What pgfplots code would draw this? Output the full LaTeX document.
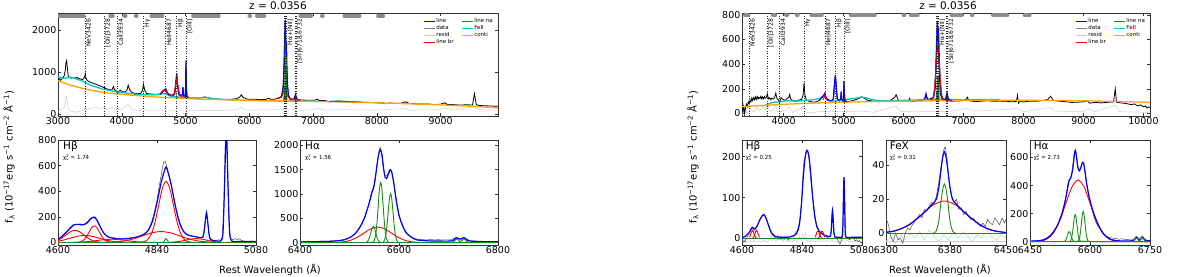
\documentclass[border=0pt]{standalone}
\usepackage{pgfplots}
\pgfplotsset{compat=1.18}
\usepackage{fontspec}
\setmainfont{DejaVu Sans}
\definecolor{cline}{rgb}{0,0,1}
\definecolor{cbr}{rgb}{1,0,0}
\definecolor{cna}{rgb}{0.1,0.55,0.1}
\definecolor{cfe}{rgb}{0,0.78,0.78}
\definecolor{cco}{rgb}{1,0.65,0}
\definecolor{cres}{gray}{0.8}
\definecolor{cdat}{gray}{0.5}
\definecolor{cbar}{gray}{0.55}
\pgfplotsset{
 base/.style={scale only axis, anchor=south west,
   axis line style={black!80, line width=0.9bp},
   tick style={black!80, line width=0.5bp}, tick align=inside, major tick length=3bp,
   ticklabel style={font=\fontsize{9.5}{10}\selectfont},
   xticklabel style={inner sep=1.5bp}, yticklabel style={inner sep=1.5bp},
   /pgf/number format/assume math mode=true, /pgf/number format/1000 sep={},
   scaled x ticks=false, scaled y ticks=false},
 topleg/.style={legend columns=2, legend cell align=left,
   legend style={draw=none, fill=none, at={(rel axis cs:0.997,0.975)}, anchor=north east,
     font=\fontsize{5.5}{6}\selectfont, nodes={inner sep=0.7bp},
     /tikz/every even column/.append style={column sep=7bp}},
   legend image code/.code={\draw[##1] (0bp,0bp) -- (11bp,0bp);}},
 spec/.style={black, line width=0.8bp},
 dat/.style={black!70, line width=0.5bp},
 res/.style={cres, line width=0.5bp},
 mline/.style={cline, line width=1.2bp},
 mbr/.style={cbr, line width=0.9bp},
 mna/.style={cna, line width=0.9bp},
 vl/.style={black!85, dotted, line width=0.5bp, unbounded coords=jump},
 bars/.style={cbar, line width=4bp, line cap=round, unbounded coords=jump},
}
\tikzset{lbl/.style={rotate=90, anchor=north east, font=\fontsize{6}{6}\selectfont, inner sep=0.8bp},
 ptitle/.style={anchor=north west, font=\fontsize{10.5}{11}\selectfont, inner sep=0bp},
 pchi/.style={anchor=north west, font=\fontsize{5.5}{6}\selectfont, inner sep=0bp}}
\newcommand\chinu{χ\rlap{\textsuperscript{2}}\textsubscript{ν}}
\begin{document}
\begin{tikzpicture}
\useasboundingbox (0bp,0bp) rectangle (1200bp,277bp);
% ================= LEFT FIGURE =================
\begin{axis}[base, topleg, at={(58bp,161bp)}, width=440bp, height=103bp,
  xmin=3000, xmax=9900, ymin=-50, ymax=2400, xtick={3000,4000,...,9000}, ytick={0,1000,2000}]
\addlegendimage{cline, line width=1.2bp}\addlegendentry{line}
\addlegendimage{cna, line width=1.2bp}\addlegendentry{line na}
\addlegendimage{cdat, line width=1.2bp}\addlegendentry{data}
\addlegendimage{cfe, line width=1.2bp}\addlegendentry{FeII}
\addlegendimage{cres, line width=1.2bp}\addlegendentry{resid}
\addlegendimage{cco, line width=1.2bp}\addlegendentry{conti}
\addlegendimage{cbr, line width=1.2bp}\addlegendentry{line br}
\addplot[res] coordinates {(3000,60)(3050,110)(3100,150)(3130,430)(3160,120)(3200,60)(3300,40)(3400,80)(3426,160)(3450,90)(3500,130)(3600,150)(3700,130)(3728,190)(3760,100)(3869,160)(3900,100)(4000,110)(4101,230)(4150,110)(4200,90)(4300,80)(4340,130)(4400,80)(4500,70)(4700,70)(5000,70)(5300,80)(5500,80)(5800,100)(5876,160)(5950,90)(6200,95)(6500,100)(6800,90)(7000,100)(7065,130)(7200,90)(7500,100)(8000,90)(8450,130)(8500,90)(9000,100)(9070,140)(9200,90)(9530,170)(9600,100)(9900,90)};
\addplot[spec] coordinates {(3000,810)(3020,840)(3040,800)(3060,830)(3080,860)(3100,920)(3115,1050)(3125,1230)(3135,1270)(3145,1120)(3160,900)(3180,870)(3200,850)(3230,865)(3260,840)(3290,870)(3320,845)(3350,830)(3380,815)(3405,840)(3420,900)(3428,950)(3436,860)(3460,790)(3490,770)(3520,745)(3560,725)(3600,700)(3640,680)(3680,655)(3710,630)(3728,640)(3745,605)(3780,590)(3810,575)(3845,565)(3869,650)(3885,580)(3915,545)(3934,490)(3950,540)(3975,560)(4010,530)(4050,520)(4080,560)(4101,680)(4125,570)(4160,505)(4200,490)(4250,480)(4300,490)(4325,560)(4340,710)(4360,560)(4390,485)(4440,475)(4500,468)(4560,465)(4620,480)(4650,540)(4690,580)(4720,480)(4760,450)(4800,430)(4830,470)(4850,760)(4861,930)(4875,700)(4895,450)(4930,420)(4950,450)(4959,610)(4968,430)(4995,415)(5001,700)(5007,1200)(5013,700)(5025,415)(5060,390)(5100,385)(5150,378)(5200,372)(5250,382)(5300,405)(5350,388)(5400,368)(5500,352)(5600,347)(5700,346)(5800,362)(5850,400)(5876,455)(5900,400)(5950,356)(6000,347)(6100,346)(6200,340)(6260,345)(6300,372)(6340,346)(6400,350)(6450,372)(6500,410)(6530,620)(6550,1500)(6563,2200)(6575,1500)(6590,950)(6610,460)(6650,348)(6700,352)(6717,415)(6724,360)(6731,425)(6760,332)(6800,330)(6900,326)(7000,322)(7040,330)(7065,352)(7090,322)(7200,316)(7250,285)(7300,300)(7400,306)(7500,300)(7600,292)(7700,287)(7800,276)(7900,272)(8000,266)(8100,256)(8150,240)(8200,261)(8300,250)(8400,257)(8450,290)(8500,252)(8600,240)(8700,232)(8800,236)(8900,222)(9000,232)(9070,265)(9100,226)(9200,220)(9300,210)(9400,216)(9500,212)(9530,480)(9560,222)(9600,202)(9700,192)(9800,188)(9900,180)};
\addplot[cfe, line width=1.3bp] coordinates {(3000,880)(3050,860)(3100,845)(3150,862)(3200,872)(3250,852)(3300,822)(3350,800)(3400,770)(3450,730)(3500,690)(3550,660)(3600,640)(3700,590)(3800,560)(3900,530)(4000,510)(4100,490)(4200,470)(4300,460)(4400,455)(4500,452)(4600,462)(4650,482)(4700,470)(4750,432)(4800,412)(4900,400)(5000,390)(5100,385)(5200,376)(5300,392)(5400,370)(5500,352)(5600,340)(5800,330)(6000,320)(6200,315)(6400,310)(6600,305)(6800,301)(7000,298)(7200,296)(7400,292)(7600,288)};
\addplot[cco, line width=1.3bp] coordinates {(3000,790)(3200,680)(3400,600)(3600,540)(3800,495)(4000,465)(4200,440)(4400,415)(4600,395)(4800,380)(5000,365)(5500,340)(6000,320)(6500,310)(7000,300)(7500,285)(8000,262)(8500,240)(9000,215)(9500,180)(9900,140)};
\addplot[mline] coordinates {(4600,470)(4630,520)(4650,560)(4670,570)(4688,600)(4700,560)(4720,490)(4760,450)(4800,440)(4830,480)(4845,700)(4861,960)(4875,700)(4890,500)(4920,440)(4950,450)(4959,640)(4968,430)(4995,410)(5002,650)(5007,1280)(5012,650)(5020,400)(5050,385)};
\addplot[mline] coordinates {(6450,370)(6500,400)(6520,460)(6535,700)(6548,1200)(6558,2000)(6563,2240)(6568,1900)(6576,1500)(6583,1700)(6590,1100)(6600,650)(6615,420)(6640,350)(6700,345)(6717,420)(6724,360)(6731,430)(6745,335)(6800,330)};
\addplot[mbr] coordinates {(4600,470)(4620,510)(4641,540)(4660,540)(4688,580)(4710,490)(4740,440)(4780,430)(4820,480)(4840,640)(4862,830)(4885,640)(4910,440)(4940,410)(4980,400)(5050,385)};
\addplot[mbr] coordinates {(6450,370)(6490,380)(6515,430)(6530,500)(6545,600)(6557,640)(6570,600)(6585,500)(6600,430)(6625,375)(6660,350)(6800,330)};
\addplot[cna, line width=0.8bp, fill=cna] coordinates {(6538,325)(6544,420)(6548,650)(6552,420)(6556,400)(6560,900)(6563,1700)(6566,900)(6570,420)(6576,400)(6580,800)(6583,1350)(6586,800)(6591,330)};
\addplot[mna] coordinates {(4845,400)(4858,400)(4862,440)(4866,400)(4880,395)};
\addplot[mna] coordinates {(7250,300)(7650,288)};
\addplot[vl] coordinates {(3426,-50)(3426,2400)(3427,nan)(3728,-50)(3728,2400)(3729,nan)(3934,-50)(3934,2400)(3935,nan)(4340,-50)(4340,2400)(4341,nan)(4687,-50)(4687,2400)(4688,nan)(4861,-50)(4861,2400)(4862,nan)(5007,-50)(5007,2400)(5008,nan)(6548,-50)(6548,2400)(6549,nan)(6563,-50)(6563,2400)(6564,nan)(6583,-50)(6583,2400)(6584,nan)(6718,-50)(6718,2400)(6719,nan)(6732,-50)(6732,2400)};
\addplot[bars] coordinates {(3000,2330)(3400,2330)(3500,nan)(3820,2330)(3860,2330)(3900,nan)(4040,2330)(4060,2330)(4100,nan)(4222,2330)(4233,2330)(4300,nan)(4465,2330)(4635,2330)(4700,nan)(5120,2330)(5520,2330)(5600,nan)(6002,2330)(6013,2330)(6050,nan)(6120,2330)(6235,2330)(6300,nan)(6800,2330)(6970,2330)(7000,nan)(7140,2330)(7150,2330)(7200,nan)(7490,2330)(7730,2330)(7800,nan)(8020,2330)(8100,2330)};
\node[lbl] at (axis cs:3426,2280) {NeV3426};
\node[lbl] at (axis cs:3728,2280) {[OII]3728};
\node[lbl] at (axis cs:3934,2280) {CaII3934};
\node[lbl] at (axis cs:4340,2280) {Hγ};
\node[lbl] at (axis cs:4687,2280) {HeII4687};
\node[lbl] at (axis cs:4861,2280) {Hβ};
\node[lbl] at (axis cs:5007,2280) {[OIII]};
\node[lbl] at (axis cs:6583,2280) {Hα+[NII]};
\node[lbl] at (axis cs:6732,2280) {[SII]6718,6732};
\end{axis}
\node[font=\fontsize{10.5}{11}\selectfont] at (278bp,271bp) {z = 0.0356};
% ---- left Hbeta ----
\begin{axis}[base, at={(58bp,32bp)}, width=198bp, height=105bp,
  xmin=4600, xmax=5080, ymin=-20, ymax=800, xtick={4600,4840,5080}, ytick={0,200,...,800}]
\addplot[res] coordinates {(4600,5)(4620,-3)(4640,8)(4660,-2)(4680,6)(4700,-4)(4720,5)(4740,0)(4760,3)(4780,-2)(4800,4)(4820,-5)(4840,20)(4850,38)(4860,30)(4870,-5)(4880,8)(4900,-3)(4920,2)(4940,5)(4960,-4)(4980,3)(5000,-2)(5020,10)(5040,5)(5060,-3)(5080,2)};
\addplot[dat] coordinates {(4600,25)(4606,35)(4612,55)(4618,75)(4624,95)(4630,120)(4636,138)(4642,142)(4648,140)(4654,145)(4660,140)(4666,148)(4672,165)(4678,185)(4684,198)(4690,200)(4696,170)(4702,125)(4708,90)(4714,60)(4720,50)(4726,38)(4732,40)(4738,35)(4744,30)(4750,33)(4756,28)(4762,30)(4768,25)(4774,35)(4780,38)(4786,40)(4792,45)(4798,50)(4804,58)(4810,70)(4816,85)(4822,120)(4828,170)(4834,240)(4840,330)(4846,450)(4852,560)(4856,625)(4860,632)(4864,590)(4868,540)(4872,490)(4878,390)(4884,290)(4890,210)(4896,150)(4902,100)(4908,75)(4914,60)(4920,50)(4926,48)(4932,45)(4938,42)(4944,38)(4950,40)(4954,70)(4957,160)(4960,230)(4963,160)(4966,60)(4970,25)(4976,18)(4982,15)(4988,20)(4994,18)(4998,40)(5002,250)(5005,720)(5008,880)(5011,600)(5014,180)(5018,30)(5024,22)(5030,30)(5034,22)(5038,30)(5044,18)(5050,10)(5060,8)(5070,10)(5080,8)};
\addplot[mline, smooth, tension=0.4] coordinates {(4600,24)(4610,47)(4620,80)(4630,112)(4640,139)(4650,141)(4660,137)(4670,150)(4680,187)(4688,196)(4695,170)(4700,138)(4710,77)(4720,46)(4730,35)(4750,26)(4770,31)(4790,41)(4810,66)(4820,100)(4830,175)(4840,309)(4850,467)(4857,550)(4862,589)(4868,534)(4875,442)(4885,278)(4895,149)(4905,83)(4915,58)(4925,50)(4935,44)(4945,37)(4952,45)(4956,137)(4960,235)(4964,130)(4968,32)(4975,15)(4985,12)(4995,12)(5000,76)(5004,470)(5008,900)(5012,470)(5016,76)(5022,10)(5040,8)(5060,8)(5080,8)};
\addplot[mbr, smooth] coordinates {(4575,1)(4586,4.2)(4597,12.9)(4608,30.8)(4619,57.6)(4630,83.8)(4641,95)(4652,83.8)(4663,57.6)(4674,30.8)(4685,12.9)(4696,4.2)(4707,1.05)(4720,0.2)};
\addplot[mbr, smooth] coordinates {(4560,0.6)(4577.5,2.4)(4595,7.4)(4612.5,17.9)(4630,33.4)(4647.5,48.5)(4665,55)(4682.5,48.5)(4700,33.4)(4717.5,17.9)(4735,7.4)(4752.5,2.4)(4770,0.6)};
\addplot[mbr, smooth] coordinates {(4649,1.4)(4655.5,5.7)(4662,17.6)(4668.5,42.2)(4675,78.8)(4681.5,114.7)(4688,130)(4694.5,114.7)(4701,78.8)(4707.5,42.2)(4714,17.6)(4720.5,5.7)(4727,1.4)};
\addplot[mbr, smooth] coordinates {(4642.5,1.1)(4660,3.4)(4677.5,8.1)(4695,15.2)(4712.5,22.1)(4730,25)(4747.5,22.1)(4765,15.2)(4782.5,8.1)(4800,3.4)(4817.5,1.1)};
\addplot[mbr, smooth] coordinates {(4799,1)(4808,5.3)(4817,21)(4826,64.5)(4835,155)(4844,289)(4853,421)(4862,477)(4871,421)(4880,289)(4889,155)(4898,64.5)(4907,21)(4916,5.3)(4925,1)};
\addplot[mbr, smooth] coordinates {(4715,0.94)(4737.5,3.7)(4760,11.5)(4782.5,27.6)(4805,51.6)(4827.5,75)(4850,85)(4872.5,75)(4895,51.6)(4917.5,27.6)(4940,11.5)(4962.5,3.7)(4985,0.94)};
\addplot[mbr, smooth] coordinates {(4872.5,1.3)(4885,4.1)(4897.5,9.7)(4910,18.2)(4922.5,26.5)(4935,30)(4947.5,26.5)(4960,18.2)(4972.5,9.7)(4985,4.1)(4997.5,1.3)};
\addplot[mna] coordinates {(4600,0)(5080,0)};
\addplot[mna, smooth] coordinates {(4854.5,1.3)(4856,4)(4857.5,9.7)(4859,18.2)(4860.5,26.5)(4862,30)(4863.5,26.5)(4865,18.2)(4866.5,9.7)(4868,4)(4869.5,1.3)};
\node[ptitle] at (rel axis cs:0.025,0.985) {Hβ};
\node[pchi] at (rel axis cs:0.025,0.86) {\chinu\ = 1.74};
\end{axis}
% ---- left Halpha ----
\begin{axis}[base, at={(300bp,32bp)}, width=198bp, height=105bp,
  xmin=6400, xmax=6800, ymin=-50, ymax=2110, xtick={6400,6600,6800}, ytick={0,500,...,2000}]
\addplot[res] coordinates {(6400,5)(6450,-5)(6500,10)(6530,-10)(6545,30)(6560,-20)(6575,25)(6600,-10)(6650,5)(6700,-5)(6750,3)(6800,0)};
\addplot[dat] coordinates {(6400,15)(6420,20)(6440,28)(6460,32)(6470,38)(6480,45)(6490,65)(6500,100)(6510,170)(6520,300)(6530,500)(6536,680)(6541,880)(6545,1060)(6548,1080)(6551,1200)(6554,1450)(6557,1700)(6560,1900)(6562,1960)(6565,1820)(6568,1550)(6571,1400)(6574,1380)(6577,1400)(6580,1480)(6583,1500)(6586,1430)(6590,1200)(6595,850)(6600,580)(6606,360)(6612,230)(6618,150)(6625,110)(6632,80)(6640,65)(6648,60)(6656,55)(6664,62)(6672,55)(6680,60)(6688,52)(6696,58)(6704,55)(6710,80)(6715,105)(6720,80)(6725,75)(6731,105)(6737,70)(6745,35)(6760,25)(6780,20)(6800,15)};
\addplot[mline, smooth, tension=0.4] coordinates {(6400,12)(6430,18)(6460,25)(6480,40)(6490,60)(6500,100)(6510,170)(6520,300)(6530,500)(6540,820)(6545,1020)(6549,1150)(6553,1400)(6557,1700)(6561,1900)(6563,1910)(6566,1780)(6569,1520)(6572,1340)(6575,1320)(6579,1420)(6582,1500)(6585,1460)(6589,1250)(6594,900)(6600,560)(6608,330)(6615,200)(6625,110)(6636,55)(6660,35)(6690,30)(6705,32)(6710,50)(6714,85)(6717,100)(6720,85)(6724,70)(6728,85)(6731,100)(6734,85)(6738,50)(6745,30)(6770,20)(6800,15)};
\addplot[mbr, smooth] coordinates {(6400,0)(6459,0.3)(6473,3.6)(6487,14)(6501,43)(6515,104)(6529,194)(6543,282)(6557,320)(6571,282)(6585,194)(6599,104)(6613,43)(6627,14)(6641,3.6)(6655,0.3)(6800,0)};
\addplot[mna] coordinates {(6400,0)(6800,0)};
\addplot[mna, smooth] coordinates {(6533,3.7)(6535.5,14.5)(6538,44.6)(6540.5,107)(6543,200)(6545.5,291)(6548,330)(6550.5,291)(6553,200)(6555.5,107)(6558,44.6)(6560.5,14.5)(6563,3.7)};
\addplot[mna, smooth] coordinates {(6548,13.8)(6550.5,54.4)(6553,168)(6555.5,403)(6558,752)(6560.5,1094)(6563,1240)(6565.5,1094)(6568,752)(6570.5,403)(6573,168)(6575.5,54.4)(6578,13.8)};
\addplot[mna, smooth] coordinates {(6568,11.2)(6570.5,44.3)(6573,137)(6575.5,328)(6578,613)(6580.5,891)(6583,1010)(6585.5,891)(6588,613)(6590.5,328)(6593,137)(6595.5,44.3)(6598,11.2)};
\addplot[mna, smooth] coordinates {(6707,3)(6709,9.5)(6711,22.7)(6713,42.5)(6715,61.8)(6717,70)(6719,61.8)(6721,42.5)(6723,22.7)(6725,9.5)(6727,3)};
\addplot[mna, smooth] coordinates {(6721,3)(6723,9.5)(6725,22.7)(6727,42.5)(6729,61.8)(6731,70)(6733,61.8)(6735,42.5)(6737,22.7)(6739,9.5)(6741,3)};
\node[ptitle] at (rel axis cs:0.025,0.985) {Hα};
\node[pchi] at (rel axis cs:0.025,0.86) {\chinu\ = 1.56};
\end{axis}
\node[font=\fontsize{10}{10}\selectfont] at (270bp,7bp) {Rest Wavelength (Å)};
\node[rotate=90, font=\fontsize{10}{10}\selectfont] at (9bp,120bp) {f\textsubscript{λ} (10\textsuperscript{−17}erg s\textsuperscript{−1} cm\textsuperscript{−2} Å\textsuperscript{−1})};
% ================= RIGHT FIGURE =================
\begin{axis}[base, topleg, at={(742bp,161bp)}, width=408bp, height=103bp,
  xmin=3306, xmax=10109, ymin=-20, ymax=815, xtick={4000,5000,...,10000}, ytick={0,200,...,800}]
\addlegendimage{cline, line width=1.2bp}\addlegendentry{line}
\addlegendimage{cna, line width=1.2bp}\addlegendentry{line na}
\addlegendimage{cdat, line width=1.2bp}\addlegendentry{data}
\addlegendimage{cfe, line width=1.2bp}\addlegendentry{FeII}
\addlegendimage{cres, line width=1.2bp}\addlegendentry{resid}
\addlegendimage{cco, line width=1.2bp}\addlegendentry{conti}
\addlegendimage{cbr, line width=1.2bp}\addlegendentry{line br}
\addplot[res] coordinates {(3306,-10)(3350,30)(3400,0)(3450,40)(3500,10)(3550,50)(3600,20)(3650,60)(3700,30)(3728,80)(3760,30)(3800,20)(3869,60)(3900,10)(4000,20)(4101,50)(4150,10)(4200,20)(4340,60)(4380,10)(4500,10)(4700,20)(5000,15)(5300,20)(5500,10)(5876,60)(5950,15)(6200,20)(6500,15)(6800,20)(7065,40)(7200,20)(7900,40)(8000,15)(8450,50)(8500,20)(9000,15)(9070,40)(9200,15)(9530,70)(9600,15)(10000,10)(10109,5)};
\addplot[spec] coordinates {(3306,40)(3320,15)(3335,60)(3350,-5)(3365,50)(3380,75)(3395,55)(3410,95)(3425,80)(3440,110)(3455,95)(3470,125)(3485,105)(3500,130)(3515,112)(3530,135)(3545,115)(3560,138)(3575,118)(3590,132)(3605,122)(3620,140)(3635,118)(3650,135)(3665,120)(3680,138)(3695,125)(3710,130)(3728,160)(3745,118)(3765,128)(3785,112)(3805,125)(3830,118)(3850,130)(3869,165)(3890,120)(3915,110)(3934,88)(3955,128)(3980,118)(4000,112)(4030,108)(4060,122)(4085,130)(4101,155)(4120,115)(4150,106)(4180,104)(4210,100)(4250,108)(4300,116)(4325,150)(4340,250)(4355,150)(4380,108)(4420,100)(4460,95)(4500,92)(4550,96)(4600,108)(4640,135)(4665,140)(4688,160)(4710,118)(4750,102)(4800,104)(4830,118)(4848,240)(4862,310)(4875,240)(4892,120)(4925,102)(4950,110)(4959,180)(4968,105)(4995,96)(5002,180)(5007,262)(5013,180)(5025,100)(5060,96)(5100,100)(5150,104)(5200,112)(5250,120)(5300,136)(5350,122)(5400,108)(5500,100)(5600,96)(5700,100)(5800,112)(5850,130)(5876,152)(5910,110)(5950,102)(6000,100)(6080,96)(6100,122)(6120,96)(6200,100)(6300,106)(6350,115)(6374,152)(6395,112)(6450,120)(6500,132)(6530,210)(6550,500)(6563,735)(6576,600)(6590,390)(6610,165)(6640,112)(6700,110)(6716,150)(6724,125)(6731,148)(6760,102)(6800,100)(6900,102)(7000,104)(7040,115)(7065,132)(7090,104)(7200,96)(7300,100)(7400,104)(7500,99)(7600,101)(7700,100)(7800,95)(7880,98)(7900,150)(7915,85)(7940,96)(8000,94)(8100,100)(8200,99)(8300,104)(8400,112)(8450,140)(8500,106)(8600,100)(8700,96)(8800,90)(8900,92)(9000,95)(9070,102)(9100,84)(9200,90)(9300,86)(9400,91)(9500,95)(9530,200)(9550,92)(9600,88)(9700,82)(9800,72)(9850,78)(9900,62)(9950,70)(10000,55)(10030,62)(10060,45)(10090,55)(10109,48)};
\addplot[cfe, line width=1.3bp] coordinates {(3700,70)(3750,78)(3800,88)(3850,92)(3900,94)(4000,100)(4100,104)(4200,100)(4300,104)(4400,108)(4500,112)(4600,122)(4650,138)(4700,130)(4750,108)(4800,100)(4900,104)(5000,110)(5100,118)(5200,124)(5300,134)(5400,124)(5500,110)(5600,104)(5800,104)(6000,107)(6200,110)(6400,113)(6600,118)(6800,114)(7000,110)(7200,112)(7400,114)(7600,114)};
\addplot[cco, line width=1.3bp] coordinates {(3306,55)(3500,61)(3750,68)(4000,75)(4500,85)(5000,92)(5500,97)(6000,100)(6500,103)(7000,105)(7500,107)(8000,107)(8500,106)(9000,103)(9500,98)(10000,92)(10109,90)};
\addplot[mline] coordinates {(4600,110)(4640,130)(4670,150)(4688,165)(4705,130)(4740,110)(4800,105)(4830,120)(4845,220)(4862,310)(4878,220)(4895,120)(4930,105)(4955,120)(4960,175)(4966,115)(4995,105)(5003,170)(5007,265)(5011,170)(5020,105)(5050,100)};
\addplot[mline] coordinates {(6340,115)(6360,130)(6374,160)(6388,130)(6410,115)};
\addplot[mline] coordinates {(6450,115)(6500,130)(6520,190)(6535,330)(6550,560)(6563,750)(6575,640)(6584,660)(6595,450)(6610,260)(6630,150)(6660,115)(6700,112)(6716,150)(6724,125)(6731,150)(6745,110)(6800,108)};
\addplot[mbr] coordinates {(4660,112)(4688,150)(4715,112)};
\addplot[mbr] coordinates {(6470,108)(6500,140)(6520,225)(6540,370)(6555,490)(6570,545)(6585,490)(6600,370)(6620,225)(6640,140)(6670,108)};
\addplot[cna, line width=0.8bp, fill=cna] coordinates {(6540,105)(6545,140)(6548,175)(6551,140)(6555,130)(6559,220)(6563,300)(6567,220)(6572,130)(6578,220)(6583,310)(6588,220)(6592,108)};
\addplot[vl] coordinates {(3426,-20)(3426,815)(3427,nan)(3728,-20)(3728,815)(3729,nan)(3934,-20)(3934,815)(3935,nan)(4340,-20)(4340,815)(4341,nan)(4687,-20)(4687,815)(4688,nan)(4861,-20)(4861,815)(4862,nan)(5007,-20)(5007,815)(5008,nan)(6548,-20)(6548,815)(6549,nan)(6563,-20)(6563,815)(6564,nan)(6583,-20)(6583,815)(6584,nan)(6718,-20)(6718,815)(6719,nan)(6732,-20)(6732,815)};
\addplot[bars] coordinates {(3355,796)(3412,796)(3500,nan)(3820,796)(3860,796)(3900,nan)(4040,796)(4060,796)(4100,nan)(4222,796)(4233,796)(4300,nan)(4465,796)(4635,796)(4700,nan)(5120,796)(5520,796)(5600,nan)(6002,796)(6013,796)(6050,nan)(6120,796)(6235,796)(6300,nan)(6800,796)(6970,796)(7000,nan)(7140,796)(7150,796)(7200,nan)(7490,796)(7730,796)(7800,nan)(8020,796)(8100,796)};
\node[lbl] at (axis cs:3426,775) {NeV3426};
\node[lbl] at (axis cs:3728,775) {[OII]3728};
\node[lbl] at (axis cs:3934,775) {CaII3934};
\node[lbl] at (axis cs:4340,775) {Hγ};
\node[lbl] at (axis cs:4687,775) {HeII4687};
\node[lbl] at (axis cs:4861,775) {Hβ};
\node[lbl] at (axis cs:5007,775) {[OIII]};
\node[lbl] at (axis cs:6583,775) {Hα+[NII]};
\node[lbl] at (axis cs:6732,775) {[SII]6718,6732};
\end{axis}
\node[font=\fontsize{10.5}{11}\selectfont] at (948bp,271bp) {z = 0.0356};
% ---- right Hbeta ----
\begin{axis}[base, at={(742bp,32bp)}, width=120bp, height=105bp,
  xmin=4600, xmax=5080, ymin=-16, ymax=241, xtick={4600,4840,5080}, ytick={0,100,200}]
\addplot[res] coordinates {(4600,-8)(4610,-4)(4620,-9)(4630,-6)(4640,-8)(4650,-5)(4660,-9)(4670,-6)(4680,-8)(4690,-4)(4700,-10)(4710,-2)(4716,8)(4722,-6)(4730,0)(4736,-8)(4742,10)(4748,-4)(4756,6)(4764,-8)(4772,0)(4780,-8)(4790,-5)(4800,-8)(4810,-4)(4820,-9)(4830,5)(4836,-4)(4842,12)(4848,-2)(4854,15)(4860,-5)(4870,-8)(4880,-4)(4890,-8)(4900,-6)(4910,-9)(4920,-5)(4930,-8)(4940,-4)(4950,-8)(4960,-3)(4970,-9)(4980,-6)(4990,-8)(5000,-5)(5010,-8)(5020,-4)(5030,-8)(5040,-6)(5050,-9)(5060,-5)(5070,-8)(5080,-6)};
\addplot[dat] coordinates {(4600,-5)(4604,-10)(4608,-6)(4612,-9)(4616,0)(4620,2)(4624,8)(4628,12)(4632,20)(4636,25)(4640,28)(4644,25)(4648,20)(4652,22)(4656,28)(4660,30)(4664,35)(4668,42)(4672,48)(4676,52)(4680,55)(4684,58)(4688,60)(4692,55)(4696,48)(4700,42)(4704,35)(4708,28)(4712,20)(4716,15)(4720,10)(4726,6)(4732,2)(4738,5)(4744,-2)(4750,4)(4756,-3)(4762,3)(4768,-2)(4774,4)(4780,0)(4786,-4)(4792,3)(4798,6)(4804,5)(4810,9)(4816,14)(4822,20)(4828,35)(4834,60)(4840,110)(4844,160)(4848,190)(4852,198)(4856,212)(4859,218)(4862,214)(4865,208)(4868,195)(4872,165)(4876,140)(4880,115)(4884,95)(4888,75)(4892,55)(4896,42)(4900,30)(4904,25)(4908,20)(4912,14)(4916,16)(4920,12)(4924,10)(4928,8)(4932,5)(4936,8)(4940,2)(4944,4)(4948,3)(4952,6)(4956,12)(4959,50)(4962,70)(4965,45)(4968,12)(4972,3)(4978,0)(4984,-5)(4988,-10)(4992,-14)(4996,-8)(5000,-2)(5003,30)(5006,120)(5008,150)(5010,120)(5013,30)(5016,5)(5020,2)(5030,-3)(5040,2)(5048,-2)(5052,-6)(5058,-3)(5064,-8)(5070,-5)(5076,-12)(5080,-8)};
\addplot[mna] coordinates {(4600,1)(5080,1)};
\addplot[mline, smooth, tension=0.4] coordinates {(4600,2)(4615,6)(4628,14)(4636,22)(4642,27)(4648,24)(4654,24)(4662,33)(4670,44)(4680,55)(4688,58)(4696,50)(4704,36)(4712,22)(4720,12)(4730,6)(4750,3)(4780,3)(4800,5)(4815,10)(4825,22)(4832,45)(4838,85)(4844,140)(4850,185)(4856,210)(4862,215)(4868,200)(4874,165)(4880,120)(4886,80)(4892,50)(4900,28)(4910,17)(4920,12)(4930,8)(4945,5)(4953,5)(4957,20)(4960,55)(4962,70)(4964,55)(4967,20)(4971,4)(4990,3)(5001,4)(5004,40)(5006,110)(5008,150)(5010,110)(5012,40)(5015,4)(5040,3)(5080,3)};
\addplot[mbr, smooth] coordinates {(4630,2.7)(4634,8.2)(4638,16)(4642,20)(4646,16)(4650,8.2)(4654,2.7)(4658,0.6)};
\addplot[mbr, smooth] coordinates {(4642,0.6)(4646,2.7)(4650,8.2)(4654,16)(4658,20)(4662,16)(4666,8.2)(4670,2.7)};
\addplot[mbr, smooth] coordinates {(4892,2.7)(4896,8.2)(4900,16)(4904,18)(4908,16)(4912,8.2)(4916,2.7)(4920,0.6)};
\addplot[mbr, smooth] coordinates {(4904,0.6)(4908,2.7)(4912,8.2)(4916,16)(4920,18)(4924,16)(4928,8.2)(4932,2.7)};
\node[ptitle] at (rel axis cs:0.03,0.985) {Hβ};
\node[pchi] at (rel axis cs:0.03,0.86) {\chinu\ = 0.25};
\end{axis}
% ---- right FeX ----
\begin{axis}[base, at={(886bp,32bp)}, width=120bp, height=105bp,
  xmin=6300, xmax=6450, ymin=-7, ymax=55, xtick={6300,6380,6450}, ytick={0,20,40}]
\addplot[res] coordinates {(6300,-5)(6306,-2)(6312,-6)(6318,-1)(6324,-4)(6330,0)(6336,-3)(6342,1)(6348,-4)(6354,2)(6360,-2)(6366,-5)(6372,-1)(6378,-4)(6384,0)(6390,-3)(6396,1)(6402,-2)(6408,-5)(6414,-1)(6420,-3)(6426,2)(6432,-2)(6438,-4)(6444,-1)(6450,-3)};
\addplot[res] coordinates {(6300,-4.5)(6450,-4.5)};
\addplot[dat] coordinates {(6300,9)(6303,5)(6306,-2)(6309,-5)(6312,0)(6315,-4)(6318,-3)(6321,-6)(6324,0)(6327,3)(6330,2)(6333,5)(6336,7)(6339,9)(6342,11)(6345,9)(6348,14)(6351,13)(6354,16)(6357,18)(6360,17)(6363,22)(6366,30)(6369,40)(6372,49)(6374,51)(6376,45)(6379,30)(6382,22)(6385,18)(6388,20)(6391,14)(6394,15)(6397,11)(6400,13)(6403,10)(6406,8)(6409,9)(6412,7)(6415,6)(6418,4)(6421,6)(6424,4)(6427,8)(6430,6)(6433,5)(6436,9)(6439,7)(6442,5)(6445,9)(6448,6)(6450,8)};
\addplot[mbr, smooth] coordinates {(6300,0.5)(6310,1.25)(6320,2.8)(6330,5.3)(6340,9.0)(6350,13.2)(6359.5,16.8)(6373,19)(6386.5,16.8)(6396,13.2)(6405,9.4)(6415,5.7)(6425,3.0)(6435,1.4)(6450,0.3)};
\addplot[mline, smooth, tension=0.4] coordinates {(6300,0.5)(6310,1.25)(6320,2.8)(6330,5.3)(6340,9.0)(6350,13.2)(6358,17.1)(6363,20.2)(6366,26.9)(6369,38.3)(6371,45.2)(6373,48)(6375,45.2)(6377,38.3)(6380,26.9)(6383,20.2)(6388,17.1)(6396,13.2)(6405,9.4)(6415,5.7)(6425,3.0)(6435,1.4)(6450,0.3)};
\addplot[mna] coordinates {(6300,0)(6450,0)};
\addplot[mna, smooth] coordinates {(6359.5,0.1)(6362.5,1)(6364,2.9)(6366.25,7.9)(6368.5,17.6)(6370.75,25.6)(6373,29)(6375.25,25.6)(6377.5,17.6)(6379.75,7.9)(6382,2.9)(6383.5,1)(6386.5,0.1)};
\node[ptitle] at (rel axis cs:0.03,0.985) {FeX};
\node[pchi] at (rel axis cs:0.03,0.86) {\chinu\ = 0.31};
\end{axis}
% ---- right Halpha ----
\begin{axis}[base, at={(1030bp,32bp)}, width=120bp, height=105bp,
  xmin=6450, xmax=6750, ymin=-24, ymax=725, xtick={6450,6600,6750}, ytick={0,200,400,600}]
\addplot[res] coordinates {(6450,-5)(6500,-10)(6540,5)(6560,-15)(6580,10)(6620,-8)(6700,-4)(6750,-6)};
\addplot[dat] coordinates {(6450,3)(6460,6)(6470,8)(6480,12)(6490,22)(6500,42)(6510,75)(6520,125)(6530,205)(6536,270)(6540,330)(6544,400)(6547,435)(6550,440)(6553,470)(6556,520)(6559,600)(6562,650)(6564,660)(6567,600)(6570,520)(6573,505)(6576,520)(6579,555)(6582,570)(6585,550)(6588,480)(6592,400)(6596,340)(6600,285)(6605,230)(6610,175)(6615,135)(6620,110)(6626,85)(6632,60)(6640,40)(6648,30)(6656,25)(6664,22)(6672,18)(6680,20)(6688,15)(6696,14)(6704,12)(6710,20)(6716,40)(6721,25)(6726,28)(6731,40)(6736,20)(6742,10)(6750,8)};
\addplot[mbr, smooth] coordinates {(6450,0)(6460,0.8)(6477,5)(6492.5,19)(6508,60)(6523.5,143)(6539,267)(6554.5,388)(6570,440)(6585.5,388)(6601,267)(6616.5,143)(6632,60)(6647.5,19)(6663,5)(6680,0.8)(6750,0)};
\addplot[mline, smooth, tension=0.4] coordinates {(6450,3)(6470,6)(6480,9)(6490,20)(6500,40)(6510,75)(6520,125)(6530,200)(6538,290)(6544,380)(6548,440)(6552,455)(6557,520)(6562,645)(6565,630)(6569,540)(6573,505)(6577,525)(6581,565)(6584,560)(6588,490)(6592,410)(6597,330)(6603,260)(6610,195)(6617,145)(6625,95)(6635,52)(6650,18)(6670,6)(6700,5)(6710,10)(6713,20)(6716,30)(6719,22)(6724,12)(6728,20)(6731,30)(6734,22)(6738,10)(6750,5)};
\addplot[mna] coordinates {(6450,0)(6750,0)};
\addplot[mna, smooth] coordinates {(6534.5,0.8)(6536.75,3.2)(6539,9.7)(6541.25,23.4)(6543.5,43.7)(6545.75,63.5)(6548,72)(6550.25,63.5)(6552.5,43.7)(6554.75,23.4)(6557,9.7)(6559.25,3.2)(6561.5,0.8)};
\addplot[mna, smooth] coordinates {(6549.5,2.1)(6551.75,8.5)(6554,26.1)(6556.25,62.7)(6558.5,117)(6560.75,170)(6563,193)(6565.25,170)(6567.5,117)(6569.75,62.7)(6572,26.1)(6574.25,8.5)(6576.5,2.1)};
\addplot[mna, smooth] coordinates {(6569.5,2.4)(6571.75,9.4)(6574,29.1)(6576.25,69.8)(6578.5,130)(6580.75,190)(6583,215)(6585.25,190)(6587.5,130)(6589.75,69.8)(6592,29.1)(6594.25,9.4)(6596.5,2.4)};
\addplot[mna, smooth] coordinates {(6706,1.1)(6708,3.4)(6710,8.1)(6712,15.2)(6714,22)(6716,25)(6718,22)(6720,15.2)(6722,8.1)(6724,3.4)(6726,1.1)};
\addplot[mna, smooth] coordinates {(6721,1.1)(6723,3.4)(6725,8.1)(6727,15.2)(6729,22)(6731,25)(6733,22)(6735,15.2)(6737,8.1)(6739,3.4)(6741,1.1)};
\node[ptitle] at (rel axis cs:0.03,0.985) {Hα};
\node[pchi] at (rel axis cs:0.03,0.86) {\chinu\ = 2.73};
\end{axis}
\node[font=\fontsize{10}{10}\selectfont] at (940bp,7bp) {Rest Wavelength (Å)};
\node[rotate=90, font=\fontsize{10}{10}\selectfont] at (693bp,120bp) {f\textsubscript{λ} (10\textsuperscript{−17}erg s\textsuperscript{−1} cm\textsuperscript{−2} Å\textsuperscript{−1})};
\end{tikzpicture}
\end{document}
